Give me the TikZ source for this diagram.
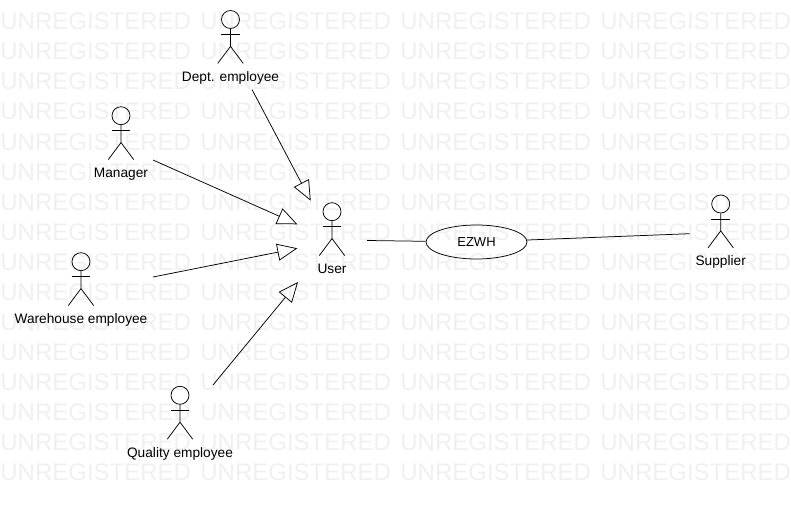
\documentclass[tikz,border=0pt]{standalone}
\usepackage{fontspec}
\setmainfont{Liberation Sans}
\usetikzlibrary{arrows.meta,shapes.geometric}

\tikzset{
  watermark/.style={text=black!6,font=\fontsize{24}{26}\selectfont,inner sep=0pt,anchor=base west},
  actorhead/.style={circle,draw,minimum size=18pt,inner sep=0pt},
  actorlabel/.style={font=\fontsize{13.7}{15}\selectfont,inner sep=0pt,anchor=base},
  usecase/.style={ellipse,draw,minimum width=101pt,minimum height=34pt,inner sep=0pt,font=\fontsize{13}{15}\selectfont},
  inherit/.style={-{Triangle[open,length=20pt,width=17pt]}}
}

% head centre, node name, label
\newcommand{\actor}[4]{
  \node[actorhead] (#3) at (#1,#2) {};
  \draw (#3.south) -- ++(0,17.5) -- ++(-12.7,17) ++(12.7,-17) -- ++(12.7,17);
  \draw (#1-9.3,#2+15) -- +(18.6,0);
  \node[actorlabel] (#3label) at (#1,#2+61.8) {#4};
}

\begin{document}
\begin{tikzpicture}[x=1pt,y=-1pt,line width=0.75pt]
    \useasboundingbox (0,0) rectangle (791,505);
    % background text
    \foreach \r in {0,...,15} {
      \foreach \c in {0,...,3} {
        \node[watermark] (wm\r\c) at (\c*200,30+\r*30) {UNREGISTERED};
      }
    }
    % actors
    \actor{230.5}{19.5}{dept}{Dept. employee}
    \actor{121}{115.7}{manager}{Manager}
    \actor{81}{261.7}{warehouse}{Warehouse employee}
    \actor{180}{395.3}{quality}{Quality employee}
    \actor{332}{211.7}{user}{User}
    \actor{720.7}{204}{supplier}{Supplier}
    \node[usecase] (ezwh) at (476.5,242) {EZWH};
    % line ends
    \coordinate (deptout) at (252,89.5);
    \coordinate (deptin) at (310.7,200.7);
    \coordinate (managerout) at (153,160);
    \coordinate (managerin) at (297.3,224.3);
    \coordinate (warehouseout) at (153,277);
    \coordinate (warehousein) at (297.3,248.3);
    \coordinate (qualityout) at (213,385);
    \coordinate (qualityin) at (298,282);
    \coordinate (userout) at (367,240.5);
    \coordinate (supplierin) at (689.5,233.7);
    \draw[inherit] (deptout) -- (deptin);
    \draw[inherit] (managerout) -- (managerin);
    \draw[inherit] (warehouseout) -- (warehousein);
    \draw[inherit] (qualityout) -- (qualityin);
    \draw (userout) -- (ezwh);
    \draw (ezwh) -- (supplierin);
\end{tikzpicture}
\end{document}
